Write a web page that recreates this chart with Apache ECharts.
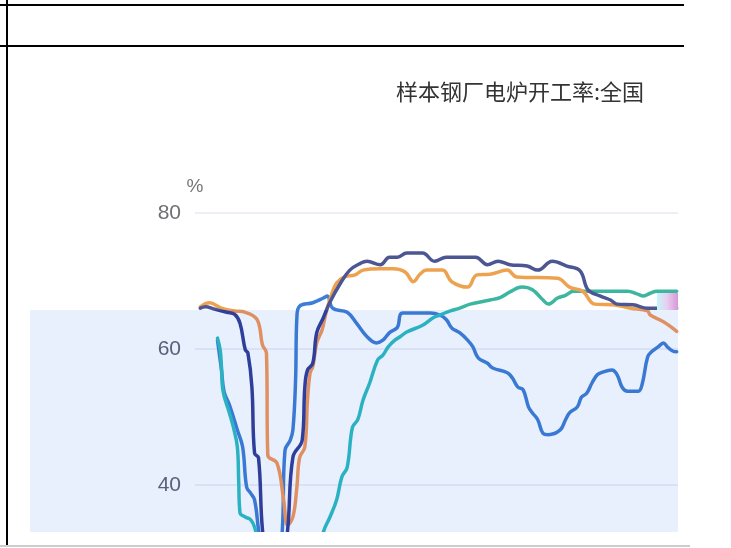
<!DOCTYPE html>
<html>
<head>
<meta charset="utf-8">
<script src="https://cdn.jsdelivr.net/npm/echarts@6/dist/echarts.min.js"></script>
<style>
  html, body { margin: 0; padding: 0; width: 731px; height: 548px; overflow: hidden; background: #fff; }
  #clip { position: absolute; left: 0; top: 0; width: 731px; height: 532px; overflow: hidden; }
  #band { position: absolute; left: 30px; top: 310px; width: 648px; height: 222px; background: #e8f0fe; }
  #chart { position: absolute; left: 0; top: 0; width: 731px; height: 800px; }
  .rule { position: absolute; background: #000; }
  #glitch { position: absolute; left: 657px; top: 293px; width: 21px; height: 17px;
            background: linear-gradient(90deg, #c4f6fa 0%, #e7d0f0 45%, #d898d8 100%); }
</style>
</head>
<body>
<div id="clip">
  <div id="band"></div>
  <div id="chart"></div>
  <div id="glitch"></div>
</div>
<div class="rule" style="left:0;top:4px;width:684px;height:2px"></div>
<div class="rule" style="left:0;top:45px;width:684px;height:2px"></div>
<div class="rule" style="left:6px;top:0;width:2px;height:546px"></div>
<div class="rule" style="left:0;top:545px;width:690px;height:2px;background:#cdcdcd"></div>
<script>
// Title and axis texts
const titleText = '样本钢厂电炉开工率:全国';
const yUnit = '%';
const yTicks = [0, 20, 40, 60, 80];

// Series: [day of year, rate %]
const seriesNames = ['2021', '2020', '2022', '2019'];
const blueData = [[17,61.3],[20,56.9],[22,53.7],[26,51.8],[32,48.1],[36,45.6],[39,39.7],[42,38.8],[45,37.8],[48,33.4],[52,28],[57,24],[62,26],[66,33.4],[68,45.1],[72,46.6],[74,48.1],[76,55.4],[77,64.7],[79,66.3],[89,66.8],[97,67.5],[100,67.8],[104,66.0],[115,65.4],[122,63.8],[130,61.8],[137,60.9],[142,61.3],[147,62.4],[153,63.2],[155,65.0],[157,65.3],[178,65.3],[185,65.0],[190,64.3],[194,63.1],[200,62.4],[206,61.3],[210,60.3],[214,58.7],[221,57.9],[225,57.2],[236,56.5],[240,55.7],[244,54.4],[248,54.0],[252,51.5],[255,50.6],[259,49.6],[263,47.6],[267,47.4],[276,48.1],[280,49.6],[283,50.6],[289,51.5],[292,52.9],[296,53.5],[300,55.0],[304,56.2],[308,56.6],[315,56.9],[319,56.2],[323,54.3],[327,53.8],[335,53.8],[338,54.9],[342,58.8],[345,59.6],[350,60.3],[354,60.9],[357,60.3],[361,59.7],[364,59.6]];
const tealData = [[17,61.6],[19,59.9],[20,57.4],[21,54.0],[26,50.6],[29,48.5],[32,45.6],[33,40.7],[34,35.9],[38,35.3],[42,34.9],[45,33.8],[48,31.5],[55,24],[63,21],[72,20],[80,21],[88,25],[94,30],[97,33.1],[102,35.3],[107,37.8],[111,41.2],[115,42.6],[119,48.5],[123,49.6],[127,52.5],[132,55.0],[138,58.4],[142,59.1],[146,60.3],[151,61.3],[155,61.8],[160,62.5],[172,63.5],[180,64.6],[185,65.0],[193,65.6],[200,66.0],[208,66.6],[223,67.2],[231,67.6],[238,68.4],[247,69.1],[255,68.7],[263,67.2],[267,66.6],[274,67.5],[280,67.9],[286,68.5],[300,68.5],[315,68.5],[327,68.5],[334,68.1],[339,67.8],[344,68.2],[349,68.5],[357,68.5],[364,68.5]];
const orangeData = [[4,66.2],[11,66.8],[20,66.0],[30,65.6],[38,65.4],[47,64.3],[51,60.6],[54,59.4],[55,44.4],[62,43.2],[67,37.8],[70,34.1],[74,35.3],[77,39.7],[79,44.0],[83,45.6],[85,52.5],[87,56.5],[89,57.4],[92,60.9],[96,62.8],[99,65.3],[103,67.9],[107,69.7],[113,70.6],[121,70.9],[127,71.6],[140,71.8],[150,71.8],[159,71.3],[165,69.9],[170,71.0],[175,71.6],[187,71.6],[194,69.9],[206,69.1],[213,70.9],[223,71.0],[236,71.6],[243,70.6],[274,70.4],[283,69.1],[293,68.5],[302,66.6],[316,66.5],[329,66.0],[342,65.6],[344,65.0],[354,64.0],[364,62.6]];
const navyData = [[4,66.0],[8,66.2],[14,65.9],[24,65.4],[30,65.1],[34,63.8],[38,59.9],[40,59.4],[43,54.4],[45,44.7],[48,44.0],[51,33.4],[57,25],[64,25],[70,33.4],[74,44.1],[81,46.6],[83,54.4],[85,56.9],[89,57.9],[92,62.4],[97,64.6],[102,66.9],[110,69.7],[117,71.6],[125,72.6],[130,72.9],[140,72.4],[147,73.5],[153,73.5],[160,74.1],[172,74.1],[181,72.9],[190,73.5],[212,73.5],[221,72.4],[229,72.9],[238,72.4],[251,72.2],[259,71.6],[270,72.9],[281,72.2],[291,71.5],[297,68.7],[306,67.8],[314,67.2],[319,66.6],[331,66.5],[342,66.0],[349,66.0],[364,66.0]];

const bandTop = 310, canvasH = 800;
function split(outer, inner) {
  const k = bandTop / canvasH;
  return new echarts.graphic.LinearGradient(0, 0, 0, canvasH, [
    { offset: 0, color: outer }, { offset: k, color: outer },
    { offset: k, color: inner }, { offset: 1, color: inner }
  ], true);
}
function line(name, data, outer, inner) {
  return {
    name: name, type: 'line', data: data, smooth: 0.4,
    showSymbol: false, symbol: 'none',
    lineStyle: { width: 3.5, color: split(outer, inner), cap: 'round', join: 'round' },
    itemStyle: { color: outer }
  };
}

const chart = echarts.init(document.getElementById('chart'), null, { renderer: 'canvas' });
chart.setOption({
  animation: false,
  backgroundColor: 'transparent',
  title: {
    text: titleText, left: 391, top: 76,
    textStyle: { fontFamily: 'Noto Sans CJK SC', fontWeight: 'normal', fontSize: 22, color: '#333' }
  },
  grid: { left: 195, right: 53, top: 213, bottom: 43 },
  xAxis: {
    type: 'value', min: 0, max: 365, show: false
  },
  yAxis: {
    type: 'value', min: yTicks[0], max: yTicks[yTicks.length - 1], interval: 20,
    name: yUnit, nameGap: 17,
    nameTextStyle: { fontSize: 19, color: '#777', fontFamily: 'Liberation Sans' },
    axisLine: { show: false }, axisTick: { show: false },
    axisLabel: {
      margin: 14, fontSize: 21, fontFamily: 'Liberation Sans',
      color: function (v) { return v >= 70 ? '#6f6f74' : '#59607a'; }
    },
    splitLine: { lineStyle: { color: 'rgba(0,20,120,0.09)', width: 1.5 } }
  },
  series: [
    line(seriesNames[0], blueData, '#3b7fd7', '#3979d4'),
    line(seriesNames[1], tealData, '#3db6a0', '#2bb2c2'),
    line(seriesNames[2], orangeData, '#eda24f', '#df9062'),
    line(seriesNames[3], navyData, '#4b5693', '#2f3d9b')
  ]
});
</script>
</body>
</html>
